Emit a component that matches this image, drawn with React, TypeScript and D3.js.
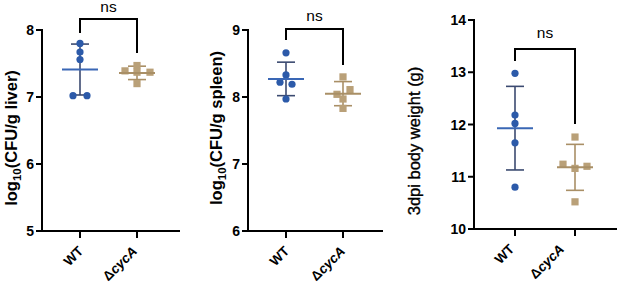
import React from "react";
import * as d3 from "d3";

const categories = ["WT", "ΔcycA"];

// Panel 1: liver
const liverWT = [7.80, 7.67, 7.56, 7.02, 7.02];
const liverKO = [7.47, 7.39, 7.37, 7.37, 7.20];
const liverMean = [7.41, 7.36];
const liverSD = [0.38, 0.10];
const liverTicks = [5, 6, 7, 8];

// Panel 2: spleen
const spleenWT = [8.66, 8.33, 8.22, 8.19, 7.97];
const spleenKO = [8.30, 8.11, 8.04, 7.97, 7.83];
const spleenMean = [8.27, 8.05];
const spleenSD = [0.25, 0.18];
const spleenTicks = [6, 7, 8, 9];

// Panel 3: body weight
const weightWT = [12.98, 12.18, 12.02, 11.65, 10.80];
const weightKO = [11.76, 11.24, 11.16, 11.20, 10.52];
const weightMean = [11.93, 11.18];
const weightSD = [0.80, 0.44];
const weightTicks = [10, 11, 12, 13, 14];

// jitter offsets (layout, px)
const liverJitter = [[0, 0, 0, -7, 7], [0, -12, 0, 13, 0]];
const spleenJitter = [[0, 0, -6, 6, 0], [0, 7, -6, 0, 0]];
const weightJitter = [[0, 0, 0, 0, 0], [0, -12, 0, 12, 0]];

const BLUE = "#2c5aa9";
const BLUE_MEAN = "#3a67b5";
const BLUE_SD = "#3b4a70";
const TAN = "#b9a078";
const TAN_SD = "#a98f66";
const FONT = "'Liberation Sans', Arial, sans-serif";

type Panel = {
  wt: number[]; ko: number[]; mean: number[]; sd: number[]; ticks: number[];
  jitter: number[][];
  domain: [number, number];
  axisX: number; axisRight: number; top: number; bottom: number;
  catRange: [number, number];
  xlabDx: number[];
  label: string; sub: boolean; labelX: number; labelY: number; labelBold: boolean;
  bracketTop: number; leftLeg: number; rightLeg: number; nsY: number;
};

const panels: Panel[] = [
  {
    wt: liverWT, ko: liverKO, mean: liverMean, sd: liverSD, ticks: liverTicks, jitter: liverJitter,
    domain: [5, 8], axisX: 42, axisRight: 180, top: 30, bottom: 231, catRange: [80, 137],
    xlabDx: [4, 1],
    label: "(CFU/g liver)", sub: true, labelX: 11, labelY: 138, labelBold: true,
    bracketTop: 19, leftLeg: 33, rightLeg: 53, nsY: 12,
  },
  {
    wt: spleenWT, ko: spleenKO, mean: spleenMean, sd: spleenSD, ticks: spleenTicks, jitter: spleenJitter,
    domain: [6, 9], axisX: 248, axisRight: 383, top: 30, bottom: 231, catRange: [286, 343],
    xlabDx: [4, 3],
    label: "(CFU/g spleen)", sub: true, labelX: 216, labelY: 128, labelBold: true,
    bracketTop: 29, leftLeg: 40, rightLeg: 65, nsY: 21,
  },
  {
    wt: weightWT, ko: weightKO, mean: weightMean, sd: weightSD, ticks: weightTicks, jitter: weightJitter,
    domain: [10, 14], axisX: 474, axisRight: 617, top: 20, bottom: 229, catRange: [515, 575],
    xlabDx: [0, -10],
    label: "3dpi body weight (g)", sub: false, labelX: 414, labelY: 141, labelBold: false,
    bracketTop: 49, leftLeg: 61, rightLeg: 124, nsY: 38,
  },
];

function PanelView({ p }: { p: Panel }) {
  const y = d3.scaleLinear().domain(p.domain).range([p.bottom, p.top]);
  const x = d3.scalePoint<string>().domain(categories).range(p.catRange);
  const xs = categories.map((c) => x(c) as number);
  const groups = [p.wt, p.ko];
  const meanColors = [BLUE_MEAN, TAN_SD];
  const sdColors = [BLUE_SD, TAN_SD];
  return (
    <g fontFamily={FONT}>
      {groups.map((_, i) => {
        const cx = xs[i];
        const hi = y(p.mean[i] + p.sd[i]);
        const lo = y(p.mean[i] - p.sd[i]);
        return (
          <g key={"sd" + i}>
            <line x1={cx} x2={cx} y1={hi} y2={lo} stroke={sdColors[i]} strokeWidth={1.6} />
            <line x1={cx - 9} x2={cx + 9} y1={hi} y2={hi} stroke={sdColors[i]} strokeWidth={1.6} />
            <line x1={cx - 9} x2={cx + 9} y1={lo} y2={lo} stroke={sdColors[i]} strokeWidth={1.6} />
          </g>
        );
      })}
      {p.wt.map((v, j) => (
        <circle key={"w" + j} cx={xs[0] + p.jitter[0][j]} cy={y(v)} r={3.6} fill={BLUE} />
      ))}
      {p.ko.map((v, j) => (
        <rect key={"k" + j} x={xs[1] + p.jitter[1][j] - 3.6} y={y(v) - 3.6} width={7.2} height={7.2} fill={TAN} />
      ))}
      {groups.map((_, i) => (
        <line key={"m" + i} x1={xs[i] - 18} x2={xs[i] + 18} y1={y(p.mean[i])} y2={y(p.mean[i])}
          stroke={meanColors[i]} strokeWidth={2} />
      ))}
      <line x1={p.axisX} x2={p.axisX} y1={p.top - 1} y2={p.bottom + 1} stroke="#000" strokeWidth={2} />
      <line x1={p.axisX - 1} x2={p.axisRight} y1={p.bottom} y2={p.bottom} stroke="#000" strokeWidth={2} />
      {p.ticks.map((t) => (
        <g key={"t" + t}>
          <line x1={p.axisX - 6} x2={p.axisX} y1={y(t)} y2={y(t)} stroke="#000" strokeWidth={2} />
          <text x={p.axisX - 8} y={y(t)} dy="0.36em" textAnchor="end" fontSize={14} fontWeight="bold">{t}</text>
        </g>
      ))}
      {xs.map((cx, i) => (
        <g key={"c" + i}>
          <line x1={cx} x2={cx} y1={p.bottom} y2={p.bottom + 7} stroke="#000" strokeWidth={2} />
          <text transform={`translate(${cx + p.xlabDx[i]},${p.bottom + 21}) rotate(-45)`}
            textAnchor="end" fontSize={13.5} fontWeight="bold">
            {i === 0 ? "WT" : (<><tspan>Δ</tspan><tspan fontStyle="italic">cycA</tspan></>)}
          </text>
        </g>
      ))}
      <g transform={`translate(${p.labelX},${p.labelY})`}>
        <g transform="rotate(-90)">
          <text x={0} y={0} textAnchor="middle" fontSize={16.5}
            fontWeight={p.labelBold ? "bold" : "normal"}
            stroke={p.labelBold ? "none" : "#000"} strokeWidth={p.labelBold ? 0 : 0.35}
            dy="0.36em">
            {p.sub ? (<><tspan>log</tspan><tspan fontSize={11.5} dy="4">10</tspan><tspan dy="-4">{p.label}</tspan></>) : p.label}
          </text>
        </g>
      </g>
      <path d={`M${xs[0]},${p.leftLeg}V${p.bracketTop}H${xs[1]}V${p.rightLeg}`} fill="none" stroke="#000" strokeWidth={2} />
      <text x={(xs[0] + xs[1]) / 2} y={p.nsY} textAnchor="middle" fontSize={15.5}>ns</text>
    </g>
  );
}

export default function App() {
  return (
    <svg width={617} height={285} style={{ position: "absolute", left: 0, top: 0, background: "#fff" }}>
      <rect width={617} height={285} fill="#fff" />
      {panels.map((p, i) => <PanelView key={i} p={p} />)}
    </svg>
  );
}
